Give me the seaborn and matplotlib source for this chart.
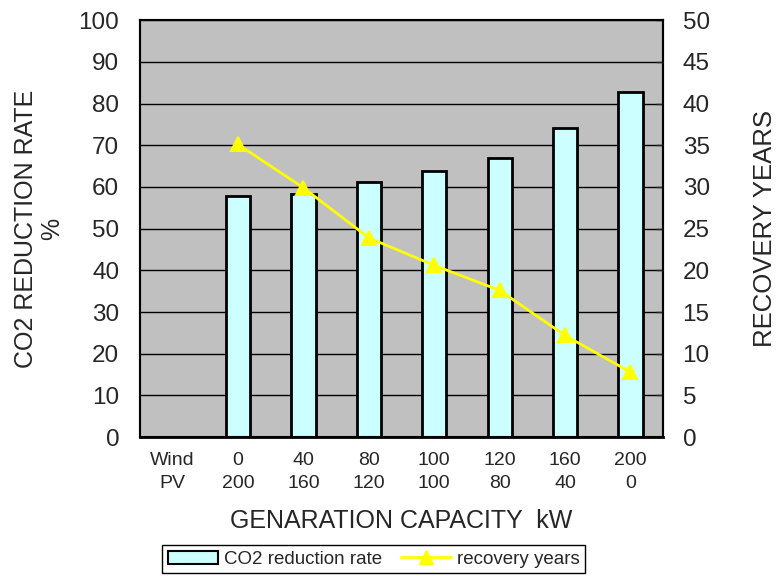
import numpy as np
import pandas as pd
import seaborn as sns
import matplotlib
matplotlib.use('Agg')
import matplotlib.pyplot as plt
from matplotlib.patches import Patch
from matplotlib.lines import Line2D

# data
categories = ['Wind\nPV', '0\n200', '40\n160', '80\n120', '100\n100', '120\n80', '160\n40', '200\n0']
co2_rate = [57.8, 58.3, 61.2, 63.8, 66.9, 74.1, 82.7]
recovery_years = [35.1, 29.9, 23.9, 20.6, 17.6, 12.2, 7.8]

df = pd.DataFrame({'cap': categories[1:], 'co2': co2_rate, 'years': recovery_years})

sns.set_style('white')
plt.rcParams['font.family'] = ['Liberation Sans', 'DejaVu Sans']

fig = plt.figure(figsize=(7.82, 5.76), dpi=100)
ax = fig.add_axes([0.179, 0.241, 0.669, 0.724])
ax.set_facecolor('#C0C0C0')

sns.barplot(data=df, x='cap', y='co2', order=categories, color='#CCFFFF',
            edgecolor='black', linewidth=2, width=0.37, saturation=1, ax=ax)
ax.set_ylim(0, 100)
ax.set_yticks(np.arange(0, 101, 10))
ax.yaxis.grid(True, color='black', linewidth=1)
ax.set_axisbelow(True)
ax.tick_params(axis='y', direction='in', length=0, labelsize=17.5, pad=15)
ax.tick_params(axis='x', length=0, labelsize=14, pad=11)
for t in ax.get_xticklabels():
    t.set_linespacing(1.45)
ax.set_xticks(np.arange(len(categories)) + 0.5, minor=True)
ax.tick_params(axis='x', which='minor', direction='in', length=4, width=1, color='#333333')
ax.set_xlabel('GENARATION CAPACITY  kW', fontsize=18, labelpad=12)
ax.set_ylabel('CO2 REDUCTION RATE\n%', fontsize=18, labelpad=10, linespacing=1.15)

ax2 = ax.twinx()
sns.pointplot(data=df, x='cap', y='years', order=categories, color='#FFFF00',
              markers='^', markersize=10, linewidth=2, ax=ax2)
ax2.set_ylim(0, 50)
ax2.set_yticks(np.arange(0, 51, 5))
ax2.set_xlim(-0.5, len(categories) - 0.5)
ax2.tick_params(axis='y', direction='in', length=5, width=1, labelsize=17.5, pad=14)
ax2.set_ylabel('RECOVERY YEARS', fontsize=18.5, labelpad=31)

for a in (ax, ax2):
    for s in a.spines.values():
        s.set_color('black')
        s.set_linewidth(1.5)
ax.spines['left'].set_color('#555555')
ax.spines['top'].set_color('#888888')
ax.spines['bottom'].set_linewidth(2)

handles = [Patch(facecolor='#CCFFFF', edgecolor='black', linewidth=1.5),
           Line2D([0], [0], color='#FFFF00', linewidth=2, marker='^', markersize=10)]
fig.legend(handles, ['CO2 reduction rate', 'recovery years'], loc='center',
           bbox_to_anchor=(0.478, 0.029), ncol=2, fontsize=13.5, frameon=True,
           fancybox=False, edgecolor='black', framealpha=1, handlelength=2.7,
           borderpad=0.3, columnspacing=1.0, handletextpad=0.3)

fig.savefig('out.png', dpi=100)
